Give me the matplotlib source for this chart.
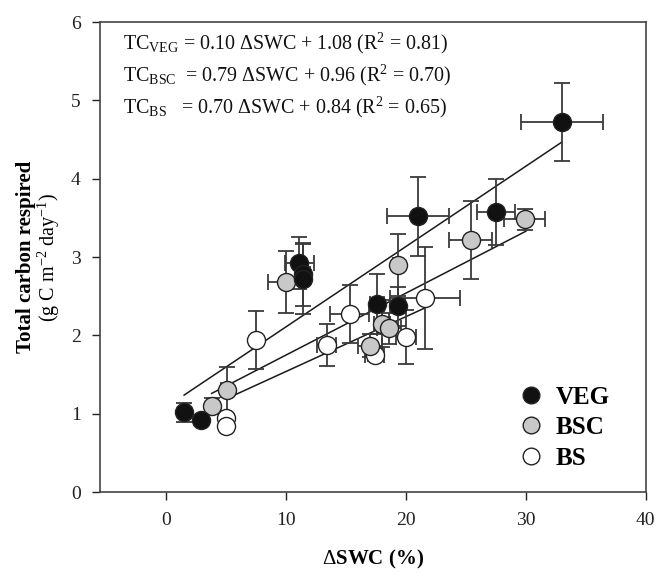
import numpy as np
import matplotlib
matplotlib.use("Agg")
import matplotlib.pyplot as plt
from matplotlib.lines import Line2D

plt.rcParams['font.family'] = ['Liberation Serif', 'DejaVu Serif']
plt.rcParams['mathtext.fontset'] = 'custom'
plt.rcParams['mathtext.rm'] = 'Liberation Serif'
plt.rcParams['mathtext.it'] = 'Liberation Serif:italic'
plt.rcParams['mathtext.bf'] = 'Liberation Serif:bold'

# VEG (black)
veg_x = [1.5, 2.9, 11.1, 11.4, 11.4, 17.6, 19.3, 21.0, 27.5, 33.0]
veg_y = [1.02, 0.92, 2.92, 2.78, 2.72, 2.40, 2.37, 3.52, 3.58, 4.72]
veg_xerr = [0.3, 0.0, 1.2, 0.6, 0.4, 0.6, 0.6, 2.6, 1.6, 3.4]
veg_yerr = [0.12, 0.05, 0.33, 0.40, 0.45, 0.38, 0.25, 0.50, 0.42, 0.50]

# BSC (grey)
bsc_x = [3.8, 5.1, 10.0, 17.0, 18.0, 18.6, 19.3, 25.4, 29.9]
bsc_y = [1.10, 1.30, 2.68, 1.87, 2.15, 2.09, 2.90, 3.22, 3.48]
bsc_xerr = [0.3, 0.5, 1.5, 1.0, 0.7, 1.0, 0.4, 1.8, 1.7]
bsc_yerr = [0.10, 0.30, 0.40, 0.15, 0.30, 0.20, 0.40, 0.50, 0.13]

# BS (white)
bs_x = [5.0, 5.0, 7.5, 13.4, 15.3, 17.4, 20.0, 21.6]
bs_y = [0.95, 0.85, 1.94, 1.88, 2.27, 1.75, 1.98, 2.48]
bs_xerr = [0.4, 0.4, 0.0, 0.8, 1.6, 0.8, 0.8, 2.9]
bs_yerr = [0.05, 0.05, 0.37, 0.27, 0.37, 0.08, 0.35, 0.65]

# regression lines (slope, intercept, x range)
veg_fit = [0.1025, 1.085, 1.5, 33.0]
bsc_fit = [0.079, 0.96, 3.8, 30.0]
bs_fit = [0.070, 0.84, 5.0, 21.5]

eq_lines = [r"TC$_{\mathrm{VEG}}$ = 0.10 $\Delta$SWC + 1.08 (R$^{2}$ = 0.81)",
            r"TC$_{\mathrm{BSC}}$  = 0.79 $\Delta$SWC + 0.96 (R$^{2}$ = 0.70)",
            r"TC$_{\mathrm{BS}}$   = 0.70 $\Delta$SWC + 0.84 (R$^{2}$ = 0.65)"]

fig = plt.figure(figsize=(6.59, 5.79), dpi=100)
ax = fig.add_axes([0.152, 0.150, 0.828, 0.812])

ecol = '#3a3a3a'
for fit in [veg_fit, bsc_fit, bs_fit]:
    xs = np.array([fit[2], fit[3]])
    ax.plot(xs, fit[0] * xs + fit[1], color='#1a1a1a', lw=1.1, zorder=2)

series = [(bs_x, bs_y, bs_xerr, bs_yerr, 'white'),
          (bsc_x, bsc_y, bsc_xerr, bsc_yerr, '#c8c8c8'),
          (veg_x, veg_y, veg_xerr, veg_yerr, '#111111')]
for x, y, xe, ye, fc in series:
    ax.errorbar(x, y, xerr=xe, yerr=ye, fmt='none', ecolor=ecol,
                elinewidth=1.3, capsize=6, capthick=1.3, zorder=3)
for x, y, xe, ye, fc in series:
    ax.plot(x, y, 'o', ms=13, mfc=fc, mec='#222222', mew=1.0, ls='none', zorder=4)

ax.set_xlim(-5.5, 40)
ax.set_ylim(0, 6)
ax.set_xticks([0, 10, 20, 30, 40])
ax.set_yticks([0, 1, 2, 3, 4, 5, 6])
ax.tick_params(direction='out', length=6, width=1.0, labelsize=14,
               colors='#222222', pad=8)
for s in ax.spines.values():
    s.set_color('#444444')
    s.set_linewidth(1.2)

for i, t in enumerate(eq_lines):
    ax.text(0.042, 0.955 - i * 0.068, t, transform=ax.transAxes,
            fontsize=14.4, va='center', ha='left', color='#111111')

handles = [Line2D([], [], marker='o', ls='none', ms=12, mfc='#111111', mec='#222222'),
           Line2D([], [], marker='o', ls='none', ms=12, mfc='#c8c8c8', mec='#222222'),
           Line2D([], [], marker='o', ls='none', ms=12, mfc='white', mec='#222222')]
leg = ax.legend(handles, ['VEG', 'BSC', 'BS'], loc='lower right',
                bbox_to_anchor=(0.975, 0.0), frameon=False,
                prop={'weight': 'bold', 'size': 18}, handletextpad=0.4,
                labelspacing=0.3, handlelength=1.2)

ax.set_xlabel(r"$\Delta$SWC (%)", fontsize=15, fontweight='bold', labelpad=14)
fig.text(0.04, 0.556, "Total carbon respired", rotation=90, fontsize=15,
         fontweight='bold', ha='center', va='center')
fig.text(0.074, 0.556, r"(g C m$^{-2}$ day$^{-1}$)", rotation=90, fontsize=14.5,
         ha='center', va='center')

fig.savefig('out.png', dpi=100)
